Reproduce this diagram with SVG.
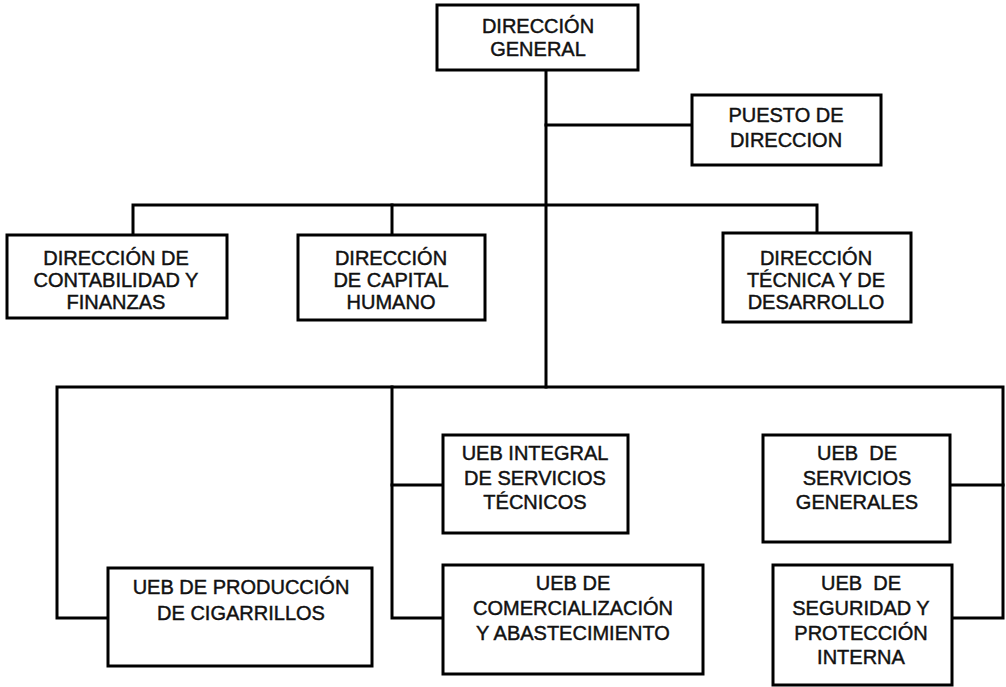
<svg xmlns="http://www.w3.org/2000/svg" width="1006" height="687" viewBox="0 0 1006 687">
<style>
.box{fill:#fff;stroke:#000;stroke-width:3}
.ln{fill:none;stroke:#000;stroke-width:3;stroke-linejoin:miter;stroke-linecap:square}
text{font-family:"Liberation Sans",Arial,sans-serif;font-size:20px;fill:#111;stroke:#111;stroke-width:0.45;text-anchor:middle;white-space:pre}
</style>
<rect width="1006" height="687" fill="#fff"/>
<g id="connectors">
<path class="ln" d="M546 70 V387"/>
<path class="ln" d="M546 125 H692"/>
<path class="ln" d="M133 235 V205 H817 V233"/>
<path class="ln" d="M392 205 V235"/>
<path class="ln" d="M108 618 H57 V387 H1003 V618 H952"/>
<path class="ln" d="M443 618 H392 V387"/>
<path class="ln" d="M392 485 H443"/>
<path class="ln" d="M950 485 H1003"/>
</g>
<g id="direccion-general">
<rect class="box" x="437" y="5" width="201" height="65"/>
<text x="538" y="33">DIRECCIÓN</text>
<text x="538" y="56">GENERAL</text>
</g>
<g id="puesto-direccion">
<rect class="box" x="692" y="95" width="189" height="70"/>
<text x="786" y="122">PUESTO DE</text>
<text x="786" y="147">DIRECCION</text>
</g>
<g id="dir-contabilidad">
<rect class="box" x="7" y="235" width="220" height="83"/>
<text x="116" y="265">DIRECCIÓN DE</text>
<text x="116" y="287">CONTABILIDAD Y</text>
<text x="116" y="309">FINANZAS</text>
</g>
<g id="dir-capital-humano">
<rect class="box" x="298" y="235" width="187" height="85"/>
<text x="391" y="265">DIRECCIÓN</text>
<text x="391" y="287">DE CAPITAL</text>
<text x="391" y="309">HUMANO</text>
</g>
<g id="dir-tecnica">
<rect class="box" x="723" y="233" width="188" height="89"/>
<text x="816" y="265">DIRECCIÓN</text>
<text x="816" y="287">TÉCNICA Y DE</text>
<text x="816" y="309">DESARROLLO</text>
</g>
<g id="ueb-produccion">
<rect class="box" x="108" y="568" width="264" height="98"/>
<text x="241" y="594">UEB DE PRODUCCIÓN</text>
<text x="241" y="620">DE CIGARRILLOS</text>
</g>
<g id="ueb-integral">
<rect class="box" x="443" y="435" width="185" height="98"/>
<text x="535" y="460">UEB INTEGRAL</text>
<text x="535" y="485">DE SERVICIOS</text>
<text x="535" y="509">TÉCNICOS</text>
</g>
<g id="ueb-comercializacion">
<rect class="box" x="443" y="565" width="260" height="109"/>
<text x="573" y="590">UEB DE</text>
<text x="573" y="615">COMERCIALIZACIÓN</text>
<text x="573" y="640">Y ABASTECIMIENTO</text>
</g>
<g id="ueb-servicios-generales">
<rect class="box" x="763" y="435" width="187" height="107"/>
<text x="857" y="460">UEB  DE</text>
<text x="857" y="485">SERVICIOS</text>
<text x="857" y="509">GENERALES</text>
</g>
<g id="ueb-seguridad">
<rect class="box" x="773" y="565" width="179" height="120"/>
<text x="861" y="590">UEB  DE</text>
<text x="861" y="615">SEGURIDAD Y</text>
<text x="861" y="640">PROTECCIÓN</text>
<text x="861" y="664">INTERNA</text>
</g>
</svg>
